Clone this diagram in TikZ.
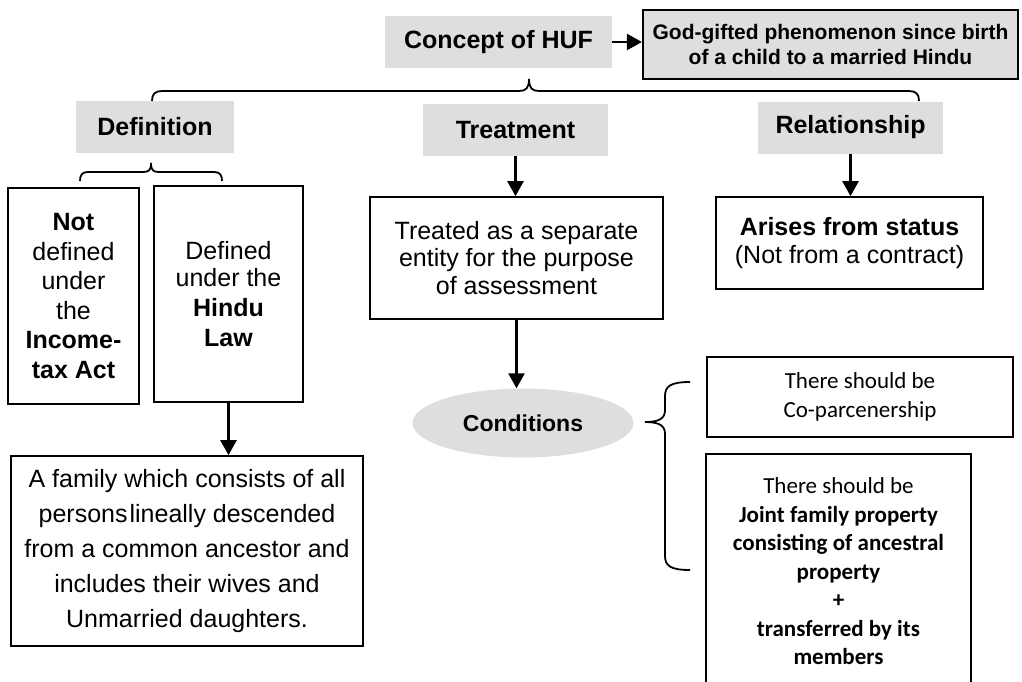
\documentclass[tikz,border=0pt]{standalone}
\usepackage{fontspec}
\setmainfont{Liberation Sans}
\newfontfamily\calibri{Carlito}
\usepackage{xcolor}
\usepackage{tikz}
\usetikzlibrary{positioning,shapes.geometric,arrows.meta}
\definecolor{hufgray}{HTML}{DEDEDE}
\tikzset{
  % --- headings and text boxes -----------------------------------------------
  head/.style={rectangle,fill=hufgray,inner sep=0pt,minimum height=52pt,
               font=\bfseries\fontsize{25}{30}\selectfont},
  note/.style={rectangle,draw,line width=1.7pt,inner sep=0pt,align=center,
               font=\fontsize{25}{30}\selectfont},
  cond/.style={note,font=\calibri\fontsize{23}{28.5}\selectfont},
  % --- connectors ------------------------------------------------------------
  link/.style={line width=2.4pt,-{Triangle[length=15pt,width=16pt]}},
  curly/.style={line width=1.8pt},
}

\begin{document}
\begin{tikzpicture}[x=1pt, y=1pt]
  \useasboundingbox (0,0) rectangle (1022,-681);
  \clip (0,0) rectangle (1022,-681);

  % top row
  \node[head,minimum width=227pt] (huf) at (498.5,-42) {Concept of HUF};
  \node[note,fill=hufgray,line width=2.2pt,minimum width=375pt,minimum height=69pt,
        font=\bfseries\fontsize{21}{25}\selectfont] (god) at (830.5,-44.5)
        {God-gifted phenomenon since birth\\of a child to a married Hindu};
  \draw[link] (huf.east) -- (huf.east -| god.west);

  % the three aspects
  \node[head,minimum width=158pt] (defn)  at (155,-127)    {Definition};
  \node[head,minimum width=185pt] (treat) at (515.5,-130)  {Treatment};
  \node[head,minimum width=185pt] (rel)   at (850.5,-127.5) {Relationship};
  \coordinate (topL) at (152,-101);
  \coordinate (topR) at (919,-101);
  \draw[curly] (topL) .. controls (152,-94) and (155,-91) .. (162,-91) -- (519,-91)
      .. controls (526,-91) and (529,-88) .. (529,-79)
      .. controls (529,-88) and (532,-91) .. (539,-91) -- (909,-91)
      .. controls (916,-91) and (919,-94) .. (topR);

  % definition branch
  \node[note,minimum width=131pt,minimum height=216pt,
        font=\fontsize{25}{29.5}\selectfont] (notdef) at (73.5,-296)
        {\textbf{Not}\\defined\\under\\the\\\textbf{Income-}\\\textbf{tax Act}};
  \node[note,minimum width=149pt,minimum height=216pt] (hindu) at (228.5,-294)
        {Defined\\[-3pt]under the\\\textbf{Hindu}\\\textbf{Law}};
  \coordinate (defL) at (80,-181);
  \coordinate (defR) at (222,-181);
  \draw[curly] (defL) .. controls (80,-175) and (82,-172) .. (88,-172) -- (143,-172)
      .. controls (149,-172) and (151,-170) .. (151,-163)
      .. controls (151,-170) and (153,-172) .. (159,-172) -- (214,-172)
      .. controls (220,-172) and (222,-175) .. (defR);
  \node[note,minimum width=352pt,minimum height=190pt,
        font=\fontsize{25}{35}\selectfont] (family) at (187,-551)
        {A family which consists of all\\persons\hspace{2pt}lineally descended\\
         from a common ancestor and\\includes their wives and\\Unmarried daughters.};
  \draw[link] (hindu.south) -- (family.north -| hindu.south);

  % treatment branch
  \node[note,minimum width=293pt,minimum height=122pt,
        font=\fontsize{25}{27.5}\selectfont] (treated) at (516.5,-258)
        {Treated as a separate\\entity for the purpose\\of assessment};
  \draw[link] (treat.south) -- (treated.north -| treat.south);
  \node[ellipse,fill=hufgray,minimum width=221pt,minimum height=69pt,inner sep=0pt,
        font=\bfseries\fontsize{23}{28}\selectfont] (conds) at (523,-423) {Conditions};
  \draw[link] (treated.south) -- (conds.north -| treated.south);

  % relationship branch
  \node[note,minimum width=267pt,minimum height=92pt,
        font=\fontsize{25}{28}\selectfont] (arise) at (849.5,-243)
        {\textbf{Arises from status}\\(Not from a contract)};
  \draw[link] (rel.south) -- (arise.north -| rel.south);

  % conditions
  \node[cond,minimum width=306pt,minimum height=80pt] (copar) at (860,-397)
        {There should be\\Co-parcenership};
  \node[cond,minimum width=265pt,minimum height=235pt] (joint) at (838.5,-571.5)
        {There should be\\\textbf{Joint family property}\\\textbf{consisting of ancestral}\\
         \textbf{property}\\\textbf{+}\\\textbf{transferred by its}\\\textbf{members}};
  \coordinate (cup)   at (690,-382);
  \coordinate (cdown) at (690,-570);
  \coordinate (ctip)  at (645,-422);
  \draw[curly] (cup) .. controls (671,-382) and (665,-386) .. (665,-396)
      -- (665,-410) .. controls (665,-418) and (660,-422) .. (ctip)
      .. controls (660,-422) and (665,-426) .. (665,-434)
      -- (665,-556) .. controls (665,-566) and (671,-570) .. (cdown);
\end{tikzpicture}
\end{document}
